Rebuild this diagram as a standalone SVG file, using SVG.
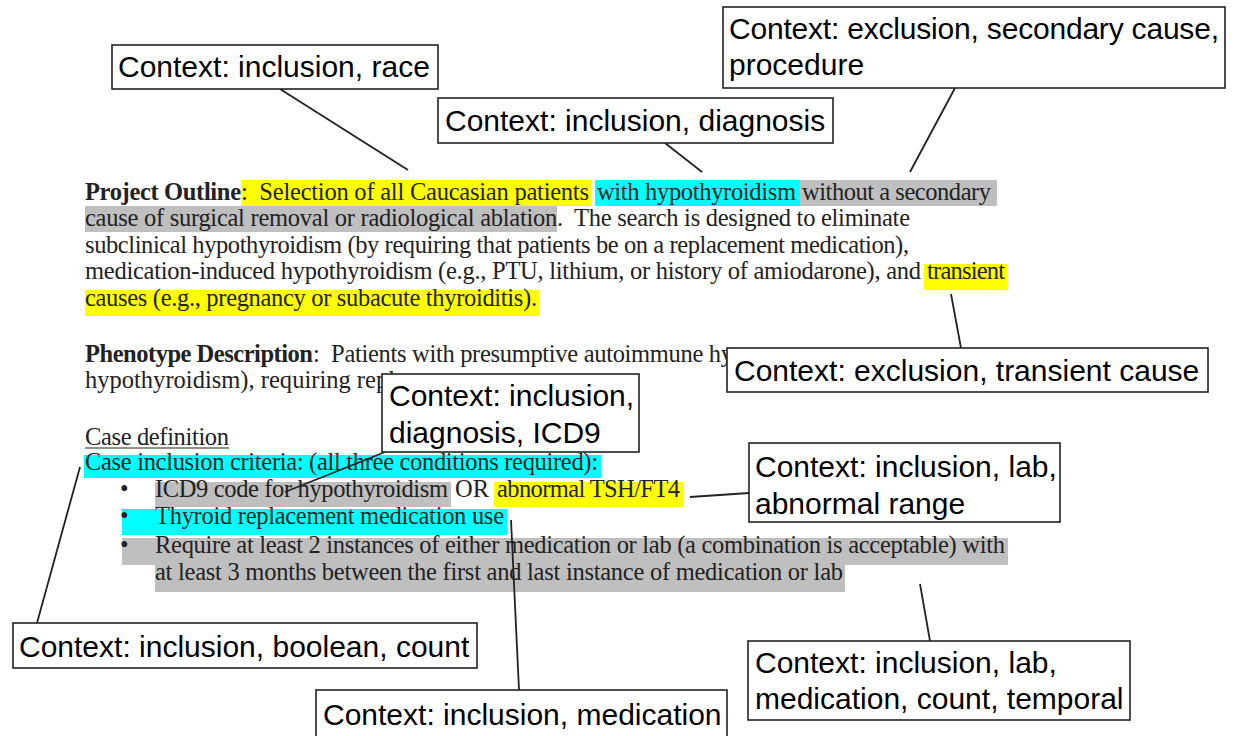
<svg xmlns="http://www.w3.org/2000/svg" width="1243" height="736" viewBox="0 0 1243 736">
<style>
.doc{font-family:"Liberation Serif","Times New Roman",serif;font-size:24.5px;fill:#222;white-space:pre}
.b{font-weight:bold}
.lbl{font-family:"Liberation Sans",Arial,sans-serif;font-size:30px;fill:#000}
.box{fill:#fff;stroke:#222;stroke-width:1.6}
.con line{stroke:#222;stroke-width:1.8}
.y{fill:#ffff00}.c{fill:#00ffff}.g{fill:#bfbfbf}
</style>
<rect width="1243" height="736" fill="#fff"/>
<g id="document">
<rect class="y" x="241" y="180" width="350" height="26"/>
<rect class="c" x="595" y="180" width="205" height="26"/>
<rect class="g" x="800" y="180" width="197" height="26"/>
<rect class="g" x="85" y="206" width="472" height="26"/>
<rect class="y" x="924" y="264" width="83" height="26"/>
<rect class="y" x="85" y="290" width="454" height="26"/>
<rect class="c" x="84" y="455" width="517" height="23"/>
<rect class="g" x="155" y="482" width="296" height="25"/>
<rect class="y" x="494" y="482" width="190" height="25"/>
<rect class="c" x="122" y="509" width="385" height="26"/>
<rect class="g" x="122" y="538" width="886" height="27"/>
<rect class="g" x="155" y="565" width="690" height="27"/>
<text class="doc b" x="85" y="200" textLength="156">Project Outline</text>
<text class="doc" x="241" y="200" textLength="348">:  Selection of all Caucasian patients</text>
<text class="doc" x="597" y="200" textLength="199">with hypothyroidism</text>
<text class="doc" x="802" y="200" textLength="189">without a secondary</text>
<text class="doc" x="85" y="226" textLength="825">cause of surgical removal or radiological ablation.  The search is designed to eliminate</text>
<text class="doc" x="85" y="253" textLength="824">subclinical hypothyroidism (by requiring that patients be on a replacement medication),</text>
<text class="doc" x="85" y="279" textLength="836">medication-induced hypothyroidism (e.g., PTU, lithium, or history of amiodarone), and</text>
<text class="doc" x="927" y="279" textLength="78">transient</text>
<text class="doc" x="85" y="306" textLength="452">causes (e.g., pregnancy or subacute thyroiditis).</text>
<text class="doc b" x="85" y="362" textLength="228">Phenotype Description</text>
<text class="doc" x="313" y="362" textLength="420">:  Patients with presumptive autoimmune hy</text>
<text class="doc" x="85" y="388" textLength="310">hypothyroidism), requiring repl</text>
<text class="doc" x="85" y="445" textLength="144">Case definition</text>
<line x1="85" y1="448" x2="229" y2="448" stroke="#222" stroke-width="1.2"/>
<text class="doc" x="85" y="470" textLength="513">Case inclusion criteria: (all three conditions required):</text>
<text class="doc" x="120" y="497">•</text>
<text class="doc" x="120" y="524">•</text>
<text class="doc" x="120" y="553">•</text>
<text class="doc" x="155" y="497" textLength="293">ICD9 code for hypothyroidism</text>
<text class="doc" x="455" y="497">OR</text>
<text class="doc" x="497" y="497" textLength="183">abnormal TSH/FT4</text>
<text class="doc" x="155" y="524" textLength="349">Thyroid replacement medication use</text>
<text class="doc" x="155" y="553" textLength="850">Require at least 2 instances of either medication or lab (a combination is acceptable) with</text>
<text class="doc" x="155" y="580" textLength="688">at least 3 months between the first and last instance of medication or lab</text>
</g>
<g id="connectors" class="con">
<line x1="280" y1="89" x2="408" y2="170"/>
<line x1="665" y1="143" x2="702" y2="172"/>
<line x1="955" y1="88" x2="910" y2="172"/>
<line x1="951" y1="294" x2="961" y2="348"/>
<line x1="385" y1="452" x2="285" y2="492"/>
<line x1="690" y1="497" x2="749" y2="493"/>
<line x1="37" y1="623" x2="80" y2="467"/>
<line x1="920" y1="584" x2="930" y2="641"/>
<line x1="511" y1="520" x2="519" y2="690"/>
</g>
<g id="n-race"><rect class="box" x="112" y="45" width="326" height="44"/><text class="lbl" x="118" y="77">Context: inclusion, race</text></g>
<g id="n-secondary"><rect class="box" x="723" y="7" width="502" height="81"/><text class="lbl" x="729" y="39" textLength="490">Context: exclusion, secondary cause,</text><text class="lbl" x="729" y="75">procedure</text></g>
<g id="n-diagnosis"><rect class="box" x="438" y="98" width="395" height="45"/><text class="lbl" x="445" y="131">Context: inclusion, diagnosis</text></g>
<g id="n-transient"><rect class="box" x="727" y="348" width="481" height="44"/><text class="lbl" x="734" y="381">Context: exclusion, transient cause</text></g>
<g id="n-icd9"><rect class="box" x="382" y="374" width="257" height="78"/><text class="lbl" x="389" y="406">Context: inclusion,</text><text class="lbl" x="389" y="443">diagnosis, ICD9</text></g>
<g id="n-lab"><rect class="box" x="749" y="443" width="311" height="79"/><text class="lbl" x="755" y="477">Context: inclusion, lab,</text><text class="lbl" x="755" y="514">abnormal range</text></g>
<g id="n-boolean"><rect class="box" x="13" y="623" width="464" height="45"/><text class="lbl" x="19" y="657">Context: inclusion, boolean, count</text></g>
<g id="n-temporal"><rect class="box" x="748" y="641" width="382" height="79"/><text class="lbl" x="755" y="673">Context: inclusion, lab,</text><text class="lbl" x="755" y="709">medication, count, temporal</text></g>
<g id="n-medication"><rect class="box" x="316" y="690" width="411" height="48"/><text class="lbl" x="323" y="725">Context: inclusion, medication</text></g>
</svg>
